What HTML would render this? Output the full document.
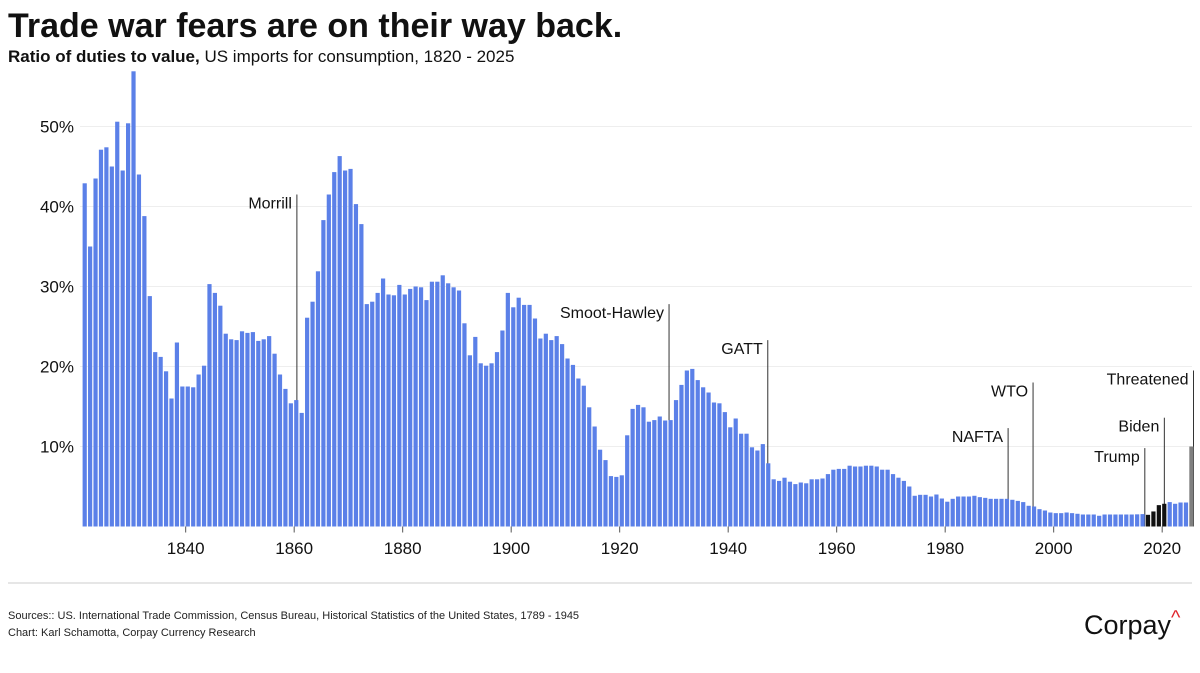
<!DOCTYPE html>
<html><head><meta charset="utf-8"><style>
html,body{margin:0;padding:0;background:#fff;}
body{width:1200px;height:668px;overflow:hidden;font-family:"Liberation Sans",sans-serif;}
</style></head><body>
<svg id="chart" width="1200" height="668" viewBox="0 0 1200 668" xmlns="http://www.w3.org/2000/svg">
<text x="8" y="37" font-size="34" font-weight="bold" fill="#111">Trade war fears are on their way back.</text>
<text x="8" y="62" font-size="17" fill="#111"><tspan font-weight="bold">Ratio of duties to value,</tspan> US imports for consumption, 1820 - 2025</text>
<g id="grid"></g><g id="annot"></g><g id="bars"></g><g id="axes"></g>
<line x1="8" y1="583" x2="1192" y2="583" stroke="#ccc" stroke-width="1"/>
<text x="8" y="619" font-size="11" fill="#222">Sources:: US. International Trade Commission, Census Bureau, Historical Statistics of the United States, 1789 - 1945</text>
<text x="8" y="636" font-size="11" fill="#222">Chart: Karl Schamotta, Corpay Currency Research</text>
<text x="1084" y="634" font-size="27" fill="#111">Corpay<tspan fill="#e0262d" font-size="20" dy="-10">^</tspan></text>
</svg>
<script>
const startYear = 1821;
const values = [42.9,35.0,43.5,47.1,47.4,45.0,50.6,44.5,50.4,56.9,
44.0,38.8,28.8,21.8,21.2,19.4,16.0,23.0,17.5,17.5,
17.4,19.0,20.1,30.3,29.2,27.6,24.1,23.4,23.3,24.4,
24.2,24.3,23.2,23.4,23.8,21.6,19.0,17.2,15.4,15.8,
14.2,26.1,28.1,31.9,38.3,41.5,44.3,46.3,44.5,44.7,
40.3,37.8,27.8,28.1,29.2,31.0,29.0,28.9,30.2,29.0,
29.7,30.0,29.9,28.3,30.6,30.6,31.4,30.4,29.9,29.5,
25.4,21.4,23.7,20.4,20.1,20.4,21.8,24.5,29.2,27.4,
28.6,27.7,27.7,26.0,23.5,24.1,23.3,23.8,22.8,21.0,
20.2,18.5,17.6,14.9,12.5,9.6,8.3,6.3,6.2,6.4,
11.4,14.7,15.2,14.9,13.1,13.3,13.75,13.25,13.3,15.8,
17.7,19.5,19.7,18.3,17.4,16.75,15.5,15.4,14.3,12.4,
13.5,11.6,11.6,9.9,9.5,10.3,7.9,5.9,5.7,6.1,
5.6,5.3,5.5,5.4,5.9,5.9,6.0,6.55,7.1,7.2,
7.2,7.6,7.5,7.5,7.6,7.6,7.5,7.1,7.1,6.55,
6.1,5.7,5.0,3.84,3.96,3.96,3.75,4.0,3.5,3.1,
3.46,3.75,3.75,3.75,3.84,3.67,3.58,3.46,3.46,3.46,
3.46,3.34,3.2,3.05,2.59,2.5,2.17,2.0,1.75,1.67,
1.67,1.75,1.67,1.59,1.5,1.5,1.5,1.34,1.5,1.5,
1.5,1.5,1.5,1.5,1.52,1.55,1.46,1.88,2.67,2.84,
3.05,2.84,3.0,3.0,10.0];
const trumpYears = [2017,2018,2019,2020];
const threatenedYears = [2025];
const yTicks = [10,20,30,40,50];
const yTickLabels = ["10%","20%","30%","40%","50%"];
const xTicks = [1840,1860,1880,1900,1920,1940,1960,1980,2000,2020];
const annLabels = ["Morrill","Smoot-Hawley","GATT","NAFTA","WTO","Trump","Biden","Threatened"];
const annYears = [1860.5,1929.1,1947.3,1991.6,1996.2,2016.8,2020.4,2025];
const annTops = [41.5,27.8,23.3,12.3,18.0,9.8,13.6,19.5];

const NS="http://www.w3.org/2000/svg";
const X0=82.6, STEP=5.425, BW=4.2, Y0=526.5, PPU=8;
const xs = yr => X0 + (yr-startYear)*STEP;
const ys = v => Y0 - v*PPU;
function mk(tag, attrs, parent){const e=document.createElementNS(NS,tag);for(const k in attrs)e.setAttribute(k,attrs[k]);parent.appendChild(e);return e;}
const grid=document.getElementById('grid'), bars=document.getElementById('bars'), axes=document.getElementById('axes'), annot=document.getElementById('annot');

yTicks.forEach((t,i)=>{
  const l=mk('line',{x1:80,x2:1192,y1:ys(t),y2:ys(t),stroke:'#eeeeee','stroke-width':1},grid);
  
  
  const tx=mk('text',{x:74,y:ys(t)+6,'text-anchor':'end','font-size':17,fill:'#111'},axes);
  tx.textContent=yTickLabels[i];
  
  
});
xTicks.forEach(t=>{
  const x=xs(t);
  const l=mk('line',{x1:x,x2:x,y1:Y0,y2:Y0+6,stroke:'#555','stroke-width':1},axes);
  
  
  const tx=mk('text',{x:x,y:554,'text-anchor':'middle','font-size':17,fill:'#111'},axes);
  tx.textContent=t;
  
  
});
values.forEach((v,i)=>{
  const yr=startYear+i;
  let c='#5b80e8';
  if(trumpYears.includes(yr)) c='#111111';
  if(threatenedYears.includes(yr)) c='#808080';
  const r=mk('rect',{x:xs(yr),y:ys(v),width:BW,height:v*PPU,fill:c},bars);
  
  
});
annLabels.forEach((lab,i)=>{
  const x=xs(annYears[i]) + (i===7?BW:0);
  const top=ys(annTops[i]);
  const l=mk('line',{x1:x,x2:x,y1:top,y2:Y0,stroke:'#333','stroke-width':1},annot);
  
  
  const t=mk('text',{x:x-5,y:top+14,'text-anchor':'end','font-size':16,fill:'#111'},annot);
  t.textContent=lab;
  
  
});
</script>
</body></html>
